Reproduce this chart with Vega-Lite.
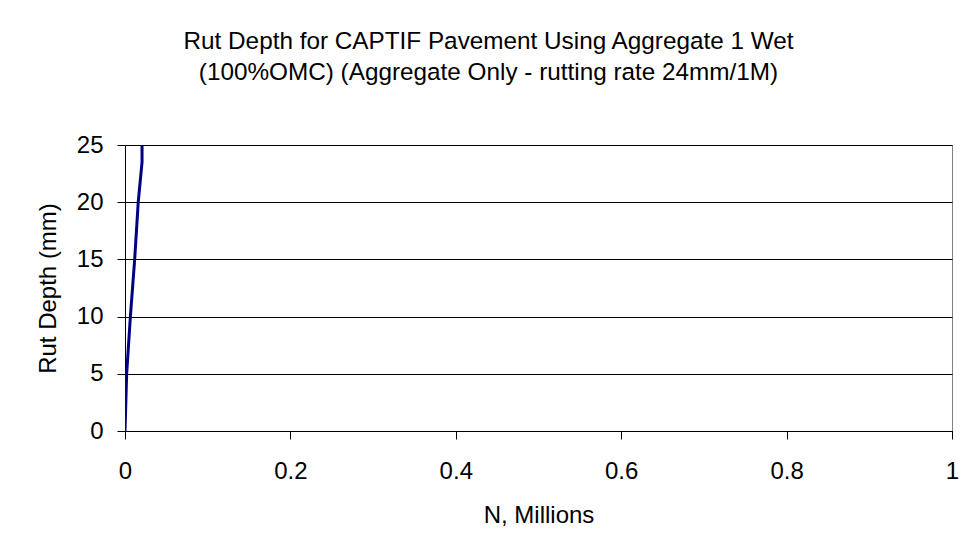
{
  "$schema": "https://vega.github.io/schema/vega-lite/v6.json",
  "width": 827,
  "height": 286,
  "autosize": {"type": "none"},
  "padding": {"left": 125, "top": 145, "right": 24, "bottom": 117},
  "background": "white",
  "title": {
    "text": ["Rut Depth for CAPTIF Pavement Using Aggregate 1 Wet", "(100%OMC) (Aggregate Only - rutting rate 24mm/1M)"],
    "font": "Liberation Sans",
    "fontSize": 24.3,
    "fontWeight": "normal",
    "color": "black",
    "anchor": "middle",
    "dx": -50,
    "offset": 48,
    "lineHeight": 31
  },
  "config": {
    "view": {"stroke": "#808080", "strokeWidth": 1},
    "axis": {
      "labelFont": "Liberation Sans",
      "titleFont": "Liberation Sans",
      "labelFontSize": 24,
      "titleFontSize": 24,
      "titleFontWeight": "normal",
      "labelColor": "black",
      "titleColor": "black",
      "domainColor": "black",
      "tickColor": "black",
      "tickSize": 8,
      "domainWidth": 1,
      "tickWidth": 1
    }
  },
  "data": {
    "values": [
      {"n": 0.0, "rut": 0},
      {"n": 0.002, "rut": 5},
      {"n": 0.0065, "rut": 10},
      {"n": 0.0117, "rut": 15},
      {"n": 0.016, "rut": 20},
      {"n": 0.0206, "rut": 23.5},
      {"n": 0.0206, "rut": 25}
    ]
  },
  "mark": {"type": "line", "color": "#000080", "strokeWidth": 3, "clip": true},
  "encoding": {
    "x": {
      "field": "n",
      "type": "quantitative",
      "scale": {"domain": [0, 1], "nice": false},
      "axis": {
        "title": "N, Millions",
        "values": [0, 0.2, 0.4, 0.6, 0.8, 1],
        "format": "~g",
        "grid": false,
        "labelPadding": 20,
        "titlePadding": 20,
        "labelFlush": false
      }
    },
    "y": {
      "field": "rut",
      "type": "quantitative",
      "scale": {"domain": [0, 25], "nice": false},
      "axis": {
        "title": "Rut Depth (mm)",
        "values": [0, 5, 10, 15, 20, 25],
        "grid": true,
        "gridColor": "black",
        "gridOpacity": 1,
        "labelPadding": 14,
        "titlePadding": 16,
        "labelFlush": false
      }
    }
  }
}
